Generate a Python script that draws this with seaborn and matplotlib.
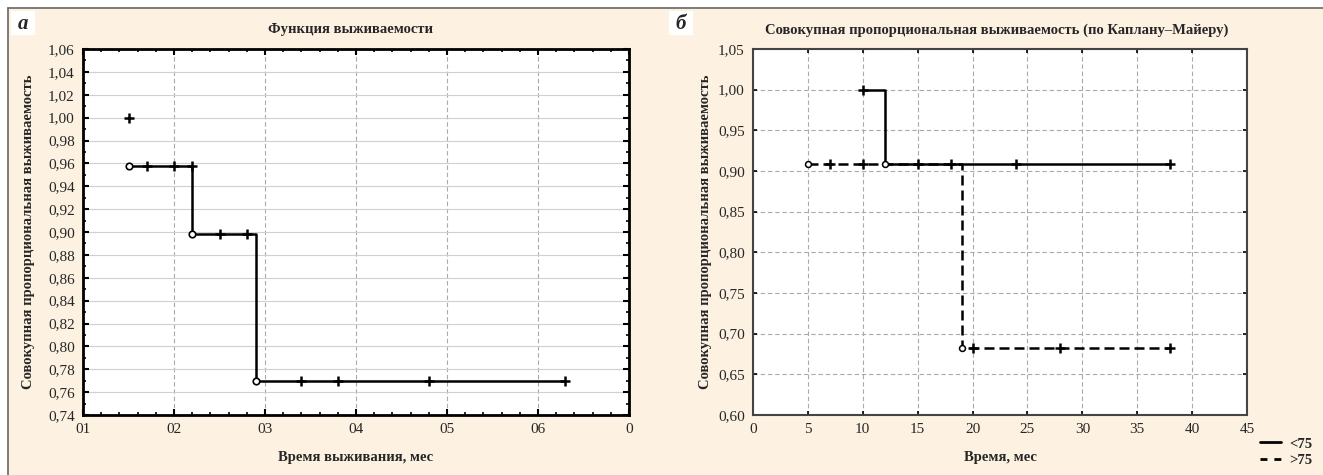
import numpy as np
import pandas as pd
import matplotlib
matplotlib.use('Agg')
import matplotlib.pyplot as plt
import seaborn as sns
from matplotlib.lines import Line2D
from matplotlib.patches import Rectangle
from matplotlib.ticker import FixedLocator, MultipleLocator

sns.set_theme(style='white')
plt.rcParams['font.family'] = ['Liberation Serif', 'DejaVu Serif']

# ---------------- data: panel a ----------------
a_title = 'Функция выживаемости'
a_xlabel = 'Время выживания, мес'
a_ylabel = 'Совокупная пропорциональная выживаемость'
a_x_ticks = [1, 2, 3, 4, 5, 6, 7]
a_x_labels = ['01', '02', '03', '04', '05', '06', '0']
a_y_ticks = [0.74, 0.76, 0.78, 0.80, 0.82, 0.84, 0.86, 0.88, 0.90, 0.92, 0.94, 0.96, 0.98, 1.00, 1.02, 1.04, 1.06]
a_y_labels = ['0,74', '0,76', '0,78', '0,80', '0,82', '0,84', '0,86', '0,88', '0,90', '0,92', '0,94',
              '0,96', '0,98', '1,00', '1,02', '1,04', '1,06']
a_step_t = [1.5, 2.2, 2.9, 6.3]
a_step_s = [0.958, 0.898, 0.770, 0.770]
a_event_t = [1.5, 2.2, 2.9]
a_event_s = [0.958, 0.898, 0.770]
a_cens_t = [1.5, 1.7, 2.0, 2.2, 2.5, 2.8, 3.4, 3.8, 4.8, 6.3]
a_cens_s = [1.000, 0.958, 0.958, 0.958, 0.898, 0.898, 0.770, 0.770, 0.770, 0.770]

# ---------------- data: panel b ----------------
b_title = 'Совокупная пропорциональная выживаемость (по Каплану\u2013Майеру)'
b_xlabel = 'Время, мес'
b_ylabel = 'Совокупная пропорциональная выживаемость'
b_x_ticks = [0, 5, 10, 15, 20, 25, 30, 35, 40, 45]
b_x_labels = ['0', '5', '10', '15', '20', '25', '30', '35', '40', '45']
b_y_ticks = [0.60, 0.65, 0.70, 0.75, 0.80, 0.85, 0.90, 0.95, 1.00, 1.05]
b_y_labels = ['0,60', '0,65', '0,70', '0,75', '0,80', '0,85', '0,90', '0,95', '1,00', '1,05']
groups = ['<75', '>75']
lt75_step_t = [10, 12, 38]
lt75_step_s = [1.000, 0.909, 0.909]
lt75_event_t = [12]
lt75_event_s = [0.909]
lt75_cens_t = [10, 15, 18, 24, 38]
lt75_cens_s = [1.000, 0.909, 0.909, 0.909, 0.909]
gt75_step_t = [5, 19, 38]
gt75_step_s = [0.909, 0.682, 0.682]
gt75_event_t = [5, 19]
gt75_event_s = [0.909, 0.682]
gt75_cens_t = [7, 10, 20, 28, 38]
gt75_cens_s = [0.909, 0.909, 0.682, 0.682, 0.682]

# ---------------- figure ----------------
W, H = 1323, 475
fig = plt.figure(figsize=(W / 100, H / 100), dpi=100)
fig.patch.set_facecolor('white')
cream = '#FDF2E1'
fig.patches.append(Rectangle((8 / W, 0), 1 - 8 / W, (H - 8) / H, transform=fig.transFigure,
                             facecolor=cream, edgecolor='none', zorder=-10))
fig.lines.append(Line2D([8 / W, 1], [1 - 8 / H, 1 - 8 / H], transform=fig.transFigure, color='#666666', lw=1.2))
fig.lines.append(Line2D([8 / W, 8 / W], [0, 1 - 8 / H], transform=fig.transFigure, color='#666666', lw=1.2))


def px_axes(l, t, r, b):
    return fig.add_axes([l / W, 1 - b / H, (r - l) / W, (b - t) / H])


ax_a = px_axes(83, 49, 629, 415)
ax_b = px_axes(753, 49, 1247, 415)

tick_fs = 11
dash = (0, (4, 2.5))

# ---- panel a ----
ax = ax_a
ax.set_facecolor('white')
ax.set_xlim(1, 7)
ax.set_ylim(0.74, 1.06)
ax.xaxis.set_major_locator(FixedLocator(a_x_ticks))
ax.set_xticklabels(a_x_labels)
ax.yaxis.set_major_locator(FixedLocator(a_y_ticks))
ax.set_yticklabels(a_y_labels)
ax.xaxis.set_minor_locator(MultipleLocator(0.2))
ax.yaxis.set_minor_locator(MultipleLocator(0.01))
ax.xaxis.grid(True, which='major', ls=dash, color='#aaaaaa', lw=0.8)
ax.yaxis.grid(True, which='major', ls='-', color='#d0d0d0', lw=0.8)
for s in ax.spines.values():
    s.set_color('black')
    s.set_linewidth(2)
ax.tick_params(which='both', direction='in', top=True, right=True, bottom=True, left=True,
               color='black', labelsize=tick_fs, pad=6)
ax.tick_params(which='major', length=4, width=1.5)
ax.tick_params(which='minor', length=2.5, width=1.2)
sns.lineplot(x=a_step_t, y=a_step_s, ax=ax, drawstyle='steps-post', estimator=None, sort=False,
             color='black', lw=1.8, zorder=2)
sns.scatterplot(x=a_cens_t, y=a_cens_s, ax=ax, marker='+', s=55, color='black', linewidth=1.8, zorder=3)
sns.scatterplot(x=a_event_t, y=a_event_s, ax=ax, marker='o', s=22, facecolor='white',
                edgecolor='black', linewidth=1.2, zorder=4)
ax.set_xlabel('')
ax.set_ylabel('')

# ---- panel b ----
ax = ax_b
ax.set_facecolor('white')
ax.set_xlim(0, 45)
ax.set_ylim(0.60, 1.05)
ax.xaxis.set_major_locator(FixedLocator(b_x_ticks))
ax.set_xticklabels(b_x_labels)
ax.yaxis.set_major_locator(FixedLocator(b_y_ticks))
ax.set_yticklabels(b_y_labels)
ax.grid(True, which='major', ls=dash, color='#aaaaaa', lw=0.8)
for s in ax.spines.values():
    s.set_color('#444444')
    s.set_linewidth(1.5)
ax.tick_params(which='major', direction='in', top=True, right=True, bottom=True, left=True,
               color='black', length=3, width=1.2, labelsize=tick_fs, pad=6)
sns.lineplot(x=gt75_step_t, y=gt75_step_s, ax=ax, drawstyle='steps-post', estimator=None, sort=False,
             color='black', lw=1.8, linestyle=(0, (4, 2)), zorder=2)
sns.lineplot(x=lt75_step_t, y=lt75_step_s, ax=ax, drawstyle='steps-post', estimator=None, sort=False,
             color='black', lw=1.8, zorder=2.5)
sns.scatterplot(x=lt75_cens_t + gt75_cens_t, y=lt75_cens_s + gt75_cens_s, ax=ax, marker='+', s=55,
                color='black', linewidth=1.8, zorder=3)
sns.scatterplot(x=lt75_event_t + gt75_event_t, y=lt75_event_s + gt75_event_s, ax=ax, marker='o', s=18,
                facecolor='white', edgecolor='black', linewidth=1.1, zorder=4)
ax.set_xlabel('')
ax.set_ylabel('')

# ---- texts ----
title_fs = 10.5
lab_fs = 10.5
fig.text(350 / W, 1 - 30 / H, a_title, ha='center', va='center', fontsize=title_fs, fontweight='bold')
fig.text(997 / W, 1 - 30 / H, b_title, ha='center', va='center', fontsize=title_fs, fontweight='bold')
fig.text(356 / W, 1 - 457 / H, a_xlabel, ha='center', va='center', fontsize=lab_fs, fontweight='bold')
fig.text(1000 / W, 1 - 457 / H, b_xlabel, ha='center', va='center', fontsize=lab_fs, fontweight='bold')
fig.text(29 / W, 1 - 232 / H, a_ylabel, ha='center', va='center', rotation=90, fontsize=lab_fs,
         fontweight='bold')
fig.text(705 / W, 1 - 232 / H, b_ylabel, ha='center', va='center', rotation=90, fontsize=lab_fs,
         fontweight='bold')

# panel letters
for (x0, letter) in [(11, 'а'), (669, 'б')]:
    fig.patches.append(Rectangle((x0 / W, 1 - 35 / H), 24 / W, 24 / H, transform=fig.transFigure,
                                 facecolor='white', edgecolor='none', zorder=1))
    fig.text((x0 + 12) / W, 1 - 24 / H, letter, ha='center', va='center', fontsize=15,
             fontweight='bold', fontstyle='italic', zorder=2)

# legend
handles = [Line2D([], [], color='black', lw=2),
           Line2D([], [], color='black', lw=2, ls=(0, (2.5, 2.5)))]
fig.legend(handles=handles, labels=groups, loc='upper left', bbox_to_anchor=(1253 / W, 1 - 430 / H),
           frameon=False, handlelength=1.4, handletextpad=0.6, labelspacing=0.25,
           prop={'family': 'Liberation Serif', 'weight': 'bold', 'size': 10.5}, borderpad=0)

fig.savefig('out.png', dpi=100, facecolor=fig.get_facecolor())
